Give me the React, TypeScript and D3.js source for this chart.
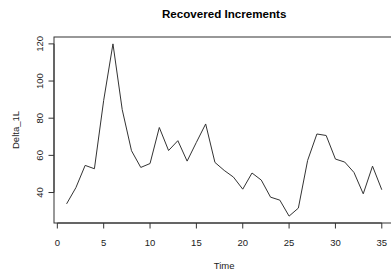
import React from "react";
import * as d3 from "d3";

const times = [1,2,3,4,5,6,7,8,9,10,11,12,13,14,15,16,17,18,19,20,21,22,23,24,25,26,27,28,29,30,31,32,33,34,35];
const values = [33.9,42.6,54.6,52.8,89.6,120,84.6,62.5,53.5,55.6,75,62.6,67.9,56.9,67,76.9,56.2,51.9,48.3,41.8,50.5,46.7,37.5,35.9,27.3,31.6,57.3,71.5,70.7,58,56.4,50.8,39.3,54.2,41.5];
const xTicks = [0,5,10,15,20,25,30,35];
const yTicks = [40,60,80,100,120];
const title = "Recovered Increments";
const xLabel = "Time";
const yLabel = "Delta_1L";

const W = 391, H = 272;
const left = 54, top = 37, bottom = 223;
const font = "'Liberation Sans', Arial, Helvetica, sans-serif";

export default function App() {
  const xMin = d3.min(times)!, xMax = d3.max(times)!;
  const yMin = d3.min(values)!, yMax = d3.max(values)!;
  const xPad = (xMax - xMin) * 0.04, yPad = (yMax - yMin) * 0.04;
  const right = left + (36.36 - -0.36) * 9.27;
  const x = d3.scaleLinear().domain([xMin - xPad, xMax + xPad]).range([left, right]);
  const y = d3.scaleLinear().domain([yMin - yPad, yMax + yPad]).range([bottom, top]);
  const line = d3.line<number>().x((_, i) => x(times[i])).y(d => y(d));
  const col = "#333";
  const cx = (left + right) / 2;
  return (
    <svg width={W} height={H} style={{ position: "absolute", left: 0, top: 0, background: "#fff" }}>
      <rect x={0} y={0} width={W} height={H} fill="#fff" />
      <text x={cx} y={18} textAnchor="middle" fontFamily={font} fontWeight="bold" fontSize={11.6} fill="#000">{title}</text>
      <rect x={left} y={top} width={right - left} height={bottom - top} fill="none" stroke={col} strokeWidth={1} />
      <path d={line(values) || ""} fill="none" stroke={col} strokeWidth={1} />
      <line x1={x(xTicks[0])} x2={x(xTicks[xTicks.length - 1])} y1={bottom} y2={bottom} stroke={col} />
      {xTicks.map(t => (
        <g key={"x" + t}>
          <line x1={x(t)} x2={x(t)} y1={bottom} y2={bottom + 5.5} stroke={col} />
          <text x={x(t)} y={245.5} textAnchor="middle" fontFamily={font} fontSize={9.5} fill="#222">{t}</text>
        </g>
      ))}
      <line x1={left} x2={left} y1={y(yTicks[0])} y2={y(yTicks[yTicks.length - 1])} stroke={col} />
      {yTicks.map(t => (
        <g key={"y" + t}>
          <line x1={left} x2={left - 5.5} y1={y(t)} y2={y(t)} stroke={col} />
          <text transform={`translate(42.5,${y(t)}) rotate(-90)`} textAnchor="middle" fontFamily={font} fontSize={9.5} fill="#222">{t}</text>
        </g>
      ))}
      <text x={cx} y={269} textAnchor="middle" fontFamily={font} fontSize={9.5} fill="#222">{xLabel}</text>
      <text transform={`translate(19,${(top + bottom) / 2}) rotate(-90)`} textAnchor="middle" fontFamily={font} fontSize={9.5} fill="#222">{yLabel}</text>
    </svg>
  );
}
